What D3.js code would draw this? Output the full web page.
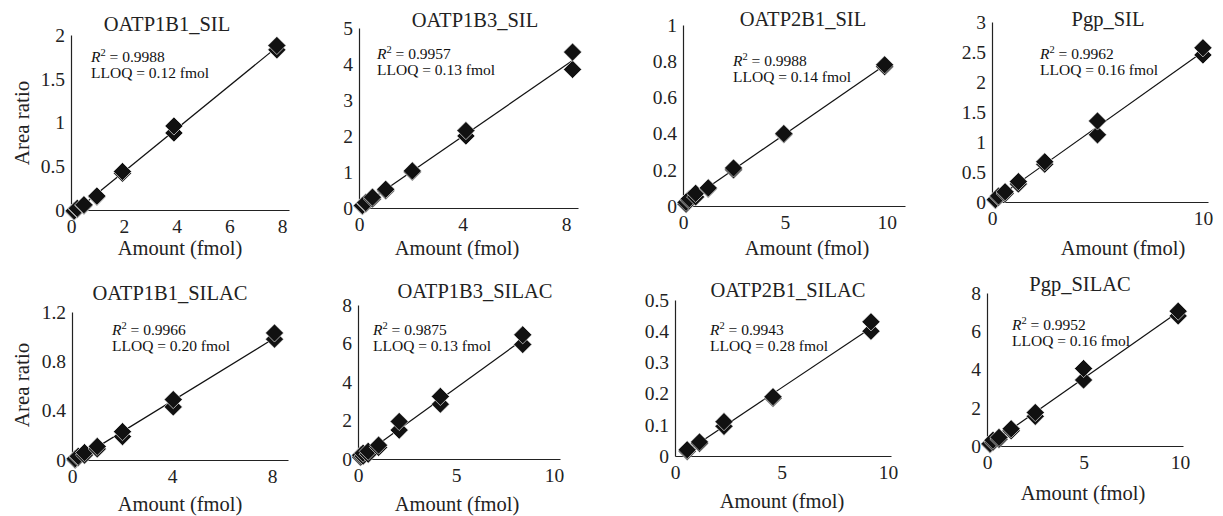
<!DOCTYPE html>
<html>
<head>
<meta charset="utf-8">
<script src="https://cdn.jsdelivr.net/npm/d3@7/dist/d3.min.js"></script>
<style>
    body { margin: 0; background: white; }
    svg { display: block; font-family: "Liberation Serif", "DejaVu Serif", serif; }
</style>
</head>
<body>
<svg id="chart"></svg>
<script>
// dados das curvas
var nomes = ["OATP1B1_SIL", "OATP1B3_SIL", "OATP2B1_SIL", "Pgp_SIL",
             "OATP1B1_SILAC", "OATP1B3_SILAC", "OATP2B1_SILAC", "Pgp_SILAC"]
var r2 = ["0.9988", "0.9957", "0.9988", "0.9962", "0.9966", "0.9875", "0.9943", "0.9952"]
var lloq = ["0.12", "0.13", "0.14", "0.16", "0.20", "0.13", "0.28", "0.16"]

// quantidade (fmol) de cada ponto da curva
var quantidades = [
    [0.12, 0.24, 0.49, 0.98, 1.95, 3.9, 7.8],
    [0.13, 0.26, 0.52, 1.03, 2.06, 4.13, 8.25],
    [0.15, 0.31, 0.62, 1.24, 2.48, 4.95, 9.9],
    [0.16, 0.31, 0.62, 1.25, 2.5, 5, 10],
    [0.126, 0.25, 0.5, 1.01, 2.02, 4.05, 8.1],
    [0.13, 0.26, 0.52, 1.05, 2.1, 4.2, 8.4],
    [0.57, 1.15, 2.3, 4.6, 9.2],
    [0.16, 0.31, 0.62, 1.25, 2.5, 5, 9.9]
]
// area ratio, replicata 1 e replicata 2
var replicata1 = [
    [-0.02, 0.01, 0.05, 0.15, 0.42, 0.88, 1.83],
    [0.05, 0.12, 0.25, 0.48, 1.0, 2.0, 3.85],
    [0.01, 0.03, 0.05, 0.095, 0.2, 0.395, 0.77],
    [0.03, 0.08, 0.14, 0.3, 0.63, 1.12, 2.45],
    [0.0, 0.02, 0.04, 0.09, 0.19, 0.43, 0.98],
    [0.1, 0.15, 0.25, 0.6, 1.5, 2.85, 5.95],
    [0.015, 0.04, 0.095, 0.185, 0.40],
    [0.08, 0.2, 0.35, 0.8, 1.55, 3.45, 6.8]
]
var replicata2 = [
    [-0.01, 0.02, 0.06, 0.16, 0.44, 0.96, 1.88],
    [0.07, 0.15, 0.3, 0.52, 1.03, 2.15, 4.33],
    [0.02, 0.04, 0.07, 0.10, 0.21, 0.40, 0.78],
    [0.04, 0.1, 0.17, 0.34, 0.67, 1.35, 2.57],
    [0.01, 0.03, 0.06, 0.11, 0.23, 0.49, 1.03],
    [0.2, 0.3, 0.4, 0.72, 1.95, 3.25, 6.45],
    [0.02, 0.045, 0.11, 0.19, 0.43],
    [0.12, 0.3, 0.45, 0.9, 1.75, 4.05, 7.05]
]

// ticks dos eixos
var ticksX = [[0, 2, 4, 6, 8], [0, 4, 8], [0, 5, 10], [0, 10],
              [0, 4, 8], [0, 5, 10], [0, 5, 10], [0, 5, 10]]
var ticksY = [[0, 0.5, 1, 1.5, 2], [0, 1, 2, 3, 4, 5], [0, 0.2, 0.4, 0.6, 0.8, 1], [0, 0.5, 1, 1.5, 2, 2.5, 3],
              [0, 0.4, 0.8, 1.2], [0, 2, 4, 6, 8], [0, 0.1, 0.2, 0.3, 0.4, 0.5], [0, 2, 4, 6, 8]]
// fim do eixo x e y (em unidades)
var maxX = [8.26, 8.46, 10.9, 10.24, 8.64, 10.3, 10.14, 10.15]
var maxY = [2, 5, 1, 3, 1.2, 8, 0.5, 8]

// posicao de cada grafico na tela (px)
var layout = [
    {l: 71,  r: 289,  b: 210, t: 35,  tx: 167,  ty: 31,  nx: 91,   ny: 62,  ax: 180,  ay: 255, eixoY: 123},
    {l: 359, r: 578,  b: 208, t: 28,  tx: 475,  ty: 27,  nx: 377,  ny: 59,  ax: 457,  ay: 255},
    {l: 683, r: 905,  b: 206, t: 25,  tx: 803,  ty: 26,  nx: 733,  ny: 66,  ax: 807,  ay: 255},
    {l: 992, r: 1208, b: 202, t: 22,  tx: 1108, ty: 26,  nx: 1040, ny: 59,  ax: 1123, ay: 255},
    {l: 72,  r: 288,  b: 460, t: 312, tx: 170,  ty: 300, nx: 112,  ny: 335, ax: 180,  ay: 511, eixoY: 385},
    {l: 358, r: 560,  b: 459, t: 305, tx: 475,  ty: 298, nx: 373,  ny: 335, ax: 457,  ay: 511},
    {l: 675, r: 891,  b: 456, t: 300, tx: 788,  ty: 297, nx: 710,  ny: 335, ax: 782,  ay: 508},
    {l: 987, r: 1183, b: 446, t: 293, tx: 1080, ty: 291, nx: 1012, ny: 330, ax: 1083, ay: 500}
]

const width = 1223
const height = 516
const corPonto = "#111"

var svg = d3.select("#chart")
    .attr("width", width)
    .attr("height", height)

// regressao linear simples (minimos quadrados), igual a trendline do excel
function regressao(pontos) {
    var mx = d3.mean(pontos, p => p.x)
    var my = d3.mean(pontos, p => p.y)
    var sxy = d3.sum(pontos, p => (p.x - mx) * (p.y - my))
    var sxx = d3.sum(pontos, p => (p.x - mx) * (p.x - mx))
    var a = sxy / sxx
    return {a: a, b: my - a * mx}
}

// losango do excel = quadrado girado 45 graus
var losango = d3.symbol().type(d3.symbolSquare).size(165)

nomes.forEach(function(nome, i) {
    var L = layout[i]
    var g = svg.append("g")

    var x = d3.scaleLinear().domain([0, maxX[i]]).range([L.l, L.r])
    var y = d3.scaleLinear().domain([0, maxY[i]]).range([L.b, L.t])

    var pontos = []
    quantidades[i].forEach(function(q, j) {
        pontos.push({x: q, y: replicata1[i][j]})
        pontos.push({x: q, y: replicata2[i][j]})
    })

    // eixos sem marcas de tick
    g.append("g")
        .attr("transform", "translate(0," + L.b + ")")
        .call(d3.axisBottom(x).tickValues(ticksX[i]).tickSize(0).tickPadding(9).tickFormat(d => String(d)))
    g.append("g")
        .attr("transform", "translate(" + L.l + ",0)")
        .call(d3.axisLeft(y).tickValues(ticksY[i]).tickSize(0).tickPadding(6).tickFormat(d => String(d)))

    g.selectAll(".domain").attr("stroke", "#222").attr("stroke-width", 1.2)
    g.selectAll(".tick text")
        .attr("fill", "#222")
        .attr("font-family", "Liberation Serif")
        .attr("font-size", 19.5)

    // linha de tendencia
    var reg = regressao(pontos)
    var x0 = d3.min(pontos, p => p.x)
    var x1 = d3.max(pontos, p => p.x)
    g.append("line")
        .attr("x1", x(x0))
        .attr("y1", y(reg.a * x0 + reg.b))
        .attr("x2", x(x1))
        .attr("y2", y(reg.a * x1 + reg.b))
        .attr("stroke", "#111")
        .attr("stroke-width", 1.2)

    // pontos
    g.append("g")
        .selectAll("path")
        .data(pontos)
        .join("path")
        .attr("d", losango)
        .attr("transform", d => "translate(" + x(d.x) + "," + y(d.y) + ") rotate(45)")
        .attr("fill", corPonto)
        .attr("stroke", "white")
        .attr("stroke-width", 0.6)

    // titulo
    g.append("text")
        .attr("x", L.tx)
        .attr("y", L.ty)
        .attr("text-anchor", "middle")
        .style("font-size", "20.5px")
        .attr("fill", "#222")
        .text(nome)

    // R2 e LLOQ
    var nota = g.append("text")
        .attr("x", L.nx)
        .attr("y", L.ny)
        .style("font-size", "15.5px")
        .attr("fill", "#111")
    nota.append("tspan").style("font-style", "italic").text("R")
    nota.append("tspan").attr("dy", -6).style("font-size", "10.5px").text("2")
    nota.append("tspan").attr("dy", 6).text(" = " + r2[i])
    g.append("text")
        .attr("x", L.nx)
        .attr("y", L.ny + 15.5)
        .style("font-size", "15.5px")
        .attr("fill", "#111")
        .text("LLOQ = " + lloq[i] + " fmol")

    // rotulo eixo x
    g.append("text")
        .attr("x", L.ax)
        .attr("y", L.ay)
        .attr("text-anchor", "middle")
        .style("font-size", "20.5px")
        .attr("fill", "#222")
        .text("Amount (fmol)")

    // rotulo eixo y, so na primeira coluna
    if (L.eixoY) {
        g.append("text")
            .attr("transform", "translate(29," + L.eixoY + ") rotate(-90)")
            .attr("text-anchor", "middle")
            .style("font-size", "21px")
            .attr("fill", "#222")
            .text("Area ratio")
    }
})
</script>
</body>
</html>
